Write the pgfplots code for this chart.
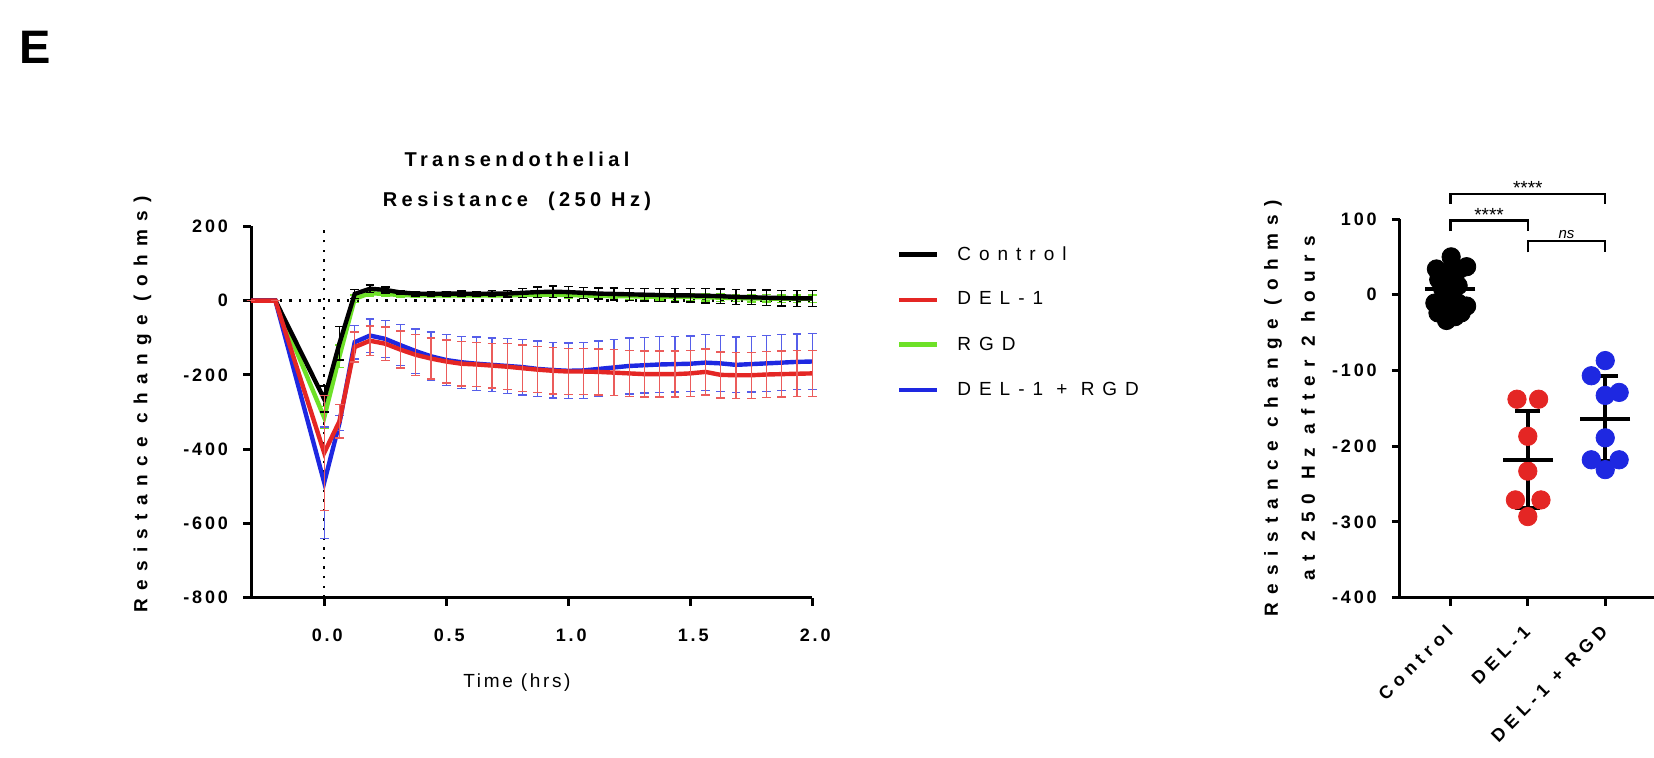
\documentclass[border=0pt]{standalone}
\usepackage{fontspec}
\setmainfont{Liberation Sans}
\newfontfamily\fTick{Liberation Sans}[LetterSpace=16]
\newfontfamily\fCat{Liberation Sans}[LetterSpace=30]
\newfontfamily\fYlab{Liberation Sans}[LetterSpace=44]
\newfontfamily\fTitle{Liberation Sans}[LetterSpace=22]
\newfontfamily\fXlab{Liberation Sans}[LetterSpace=14]
\newfontfamily\fLeg{Liberation Sans}[LetterSpace=42]
\usepackage{pgfplots}
\usepackage{pgfplotstable}
\pgfplotsset{compat=1.18}

\definecolor{cred}{RGB}{228,38,36}
\definecolor{cgreen}{RGB}{110,225,40}
\definecolor{cblue}{RGB}{30,40,225}

% time course, mean and SD
\pgfplotstableread{
t m e
-0.3 0 0
-0.2 0 0
0 -265 35
0.0625 -115 45
0.125 18 12
0.1875 32 10
0.25 29 8
0.3125 22 6
0.375 19 6
0.4375 18 6
0.5 19 6
0.5625 19 7
0.625 18 7
0.6875 19 8
0.75 19 9
0.8125 21 12
0.875 23 14
0.9375 24 15
1.0 23 15
1.0625 21 15
1.125 19 15
1.1875 18 16
1.25 17 16
1.3125 16 17
1.375 15 17
1.4375 14 18
1.5 14 18
1.5625 13 19
1.625 12 19
1.6875 10 20
1.75 9 20
1.8125 8 21
1.875 7 21
1.9375 6 22
2.0 6 22
}\ctrl

\pgfplotstableread{
t m e
-0.3 0 0
-0.2 0 0
0 -315 30
0.0625 -150 30
0.125 5 10
0.1875 20 8
0.25 18 6
0.3125 15 5
0.375 14 5
0.4375 14 5
0.5 14 5
0.5625 14 5
0.625 14 6
0.6875 14 6
0.75 14 6
0.8125 15 7
0.875 16 8
0.9375 16 8
1.0 15 8
1.0625 14 8
1.125 13 8
1.1875 12 8
1.25 12 9
1.3125 11 9
1.375 11 9
1.4375 10 9
1.5 10 9
1.5625 9 10
1.625 8 10
1.6875 7 10
1.75 6 10
1.8125 6 10
1.875 5 10
1.9375 5 10
2.0 5 10
}\rgd

\pgfplotstableread{
t m e
-0.3 0 0
-0.2 0 0
0 -410 155
0.0625 -325 45
0.125 -125 40
0.1875 -108 40
0.25 -116 45
0.3125 -132 50
0.375 -146 55
0.4375 -156 55
0.5 -164 58
0.5625 -170 60
0.625 -172 60
0.6875 -175 60
0.75 -178 62
0.8125 -182 62
0.875 -186 62
0.9375 -189 62
1.0 -191 62
1.0625 -191 62
1.125 -192 62
1.1875 -194 62
1.25 -196 62
1.3125 -198 62
1.375 -198 62
1.4375 -198 62
1.5 -196 62
1.5625 -192 62
1.625 -200 62
1.6875 -201 62
1.75 -201 62
1.8125 -199 62
1.875 -198 62
1.9375 -197 62
2.0 -196 62
}\delone

\pgfplotstableread{
t m e
-0.3 0 0
-0.2 0 0
0 -490 150
0.0625 -330 20
0.125 -112 45
0.1875 -94 45
0.25 -103 50
0.3125 -120 55
0.375 -136 60
0.4375 -150 65
0.5 -160 68
0.5625 -166 70
0.625 -170 72
0.6875 -173 72
0.75 -176 74
0.8125 -179 75
0.875 -184 75
0.9375 -187 75
1.0 -189 75
1.0625 -188 75
1.125 -184 75
1.1875 -180 75
1.25 -176 75
1.3125 -174 75
1.375 -172 75
1.4375 -171 75
1.5 -170 75
1.5625 -167 75
1.625 -169 75
1.6875 -173 75
1.75 -171 75
1.8125 -169 75
1.875 -167 75
1.9375 -165 75
2.0 -164 75
}\delrgd

% values after 2 hours
\pgfplotstableread{
x y
0.01 50
-0.18 34
0.21 37
-0.07 29
0.11 33
0 24
-0.15 20
0.1 12
-0.1 8
0 -4
-0.2 -11
0.21 -15
-0.09 -13
0.1 -11
-0.16 -24
0.14 -24
0.06 -29
-0.05 -34
}\ptctrl

\pgfplotstableread{
x y
0.86 -138
1.14 -138
1 -187
1 -233
0.84 -271
1.17 -271
1 -293
}\ptdel

\pgfplotstableread{
x y
2 -87
1.82 -107
2.18 -129
2 -133
2 -189
1.82 -218
2.18 -218
2 -231
}\ptdelrgd

\pgfplotstableread{
x m s
0 7 26
1 -218 64
2 -164 56
}\summ

\newcommand\tickfont{\fTick\bfseries\fontsize{9}{10}\selectfont}

\begin{document}
\begin{tikzpicture}
\useasboundingbox (0pt,0pt) rectangle (827pt,379pt);
\node[anchor=north west, inner sep=0pt, font=\bfseries\fontsize{23.5}{24}\selectfont] at (9.5pt,363.4pt) {E};

\begin{axis}[
  at={(125.5pt,80.2pt)}, anchor=south west,
  scale only axis, width=280.6pt, height=185.6pt,
  xmin=-0.3, xmax=2.0, ymin=-800, ymax=200,
  axis x line*=bottom, axis y line*=left,
  axis line style={line width=1.5pt},
  tick align=outside, major tick length=4pt,
  tick style={line width=1.5pt, black},
  xtick={0,0.5,1,1.5,2}, xticklabels={0.0,0.5,1.0,1.5,2.0},
  ytick={-800,-600,-400,-200,0,200},
  yticklabels={-800,-600,-400,-200,0,200},
  tick label style={font=\tickfont},
  x tick label style={yshift=-8pt, xshift=1.5pt},
  y tick label style={xshift=-4pt},
  title={Transendothelial\\Resistance\ \ (250 Hz)},
  title style={align=center, font=\fTitle\bfseries\fontsize{10}{20}\selectfont,
    at={(axis description cs:0.474,1)}, anchor=south, inner sep=0pt, yshift=1.8pt},
  xlabel={Time (hrs)},
  xlabel style={font=\fXlab\fontsize{9.5}{11}\selectfont,
    at={(axis description cs:0.474,0)}, anchor=center, yshift=-42.7pt},
  ylabel={Resistance change (ohms)},
  ylabel style={font=\fYlab\bfseries\fontsize{9.5}{11}\selectfont,
    at={(axis description cs:-0.1935,0.52)}, anchor=center},
  legend image code/.code={\draw[#1] (0pt,0pt) -- (19pt,0pt);},
  legend cell align=left,
  legend style={at={(1.139,0.969)}, anchor=north west, draw=none, fill=none,
    font=\fLeg\fontsize{9.5}{11}\selectfont, row sep=10.4pt,
    /tikz/every odd column/.append style={column sep=7pt}},
  clip=false,
]
\draw[black, line width=1.2pt, dash pattern=on 1.2pt off 3.6pt] (axis cs:-0.3,0) -- (axis cs:2,0);
\draw[black, line width=1.2pt, dash pattern=on 1.2pt off 3.6pt] (axis cs:0,-800) -- (axis cs:0,200);

\addlegendimage{black, line width=2.4pt}\addlegendentry{Control}
\addlegendimage{cred, line width=2.4pt}\addlegendentry{DEL-1}
\addlegendimage{cgreen, line width=2.4pt}\addlegendentry{RGD}
\addlegendimage{cblue, line width=2.4pt}\addlegendentry{DEL-1 + RGD}

\addplot[cgreen, line width=2.2pt, forget plot,
  error bars/.cd, y dir=both, y explicit, error mark=|,
  error bar style={line width=0.7pt, cgreen},
  error mark options={mark size=2.2pt, line width=0.7pt, cgreen}]
  table[x=t, y=m, y error=e] {\rgd};
\addplot[black, line width=2.2pt, forget plot,
  error bars/.cd, y dir=both, y explicit, error mark=|,
  error bar style={line width=0.7pt, black},
  error mark options={mark size=2.2pt, line width=0.7pt, black}]
  table[x=t, y=m, y error=e] {\ctrl};
\addplot[cblue, line width=2.2pt, forget plot,
  error bars/.cd, y dir=both, y explicit, error mark=|,
  error bar style={line width=0.7pt, cblue!75},
  error mark options={mark size=2.2pt, line width=0.7pt, cblue!75}]
  table[x=t, y=m, y error=e] {\delrgd};
\addplot[cred, line width=2.2pt, forget plot,
  error bars/.cd, y dir=both, y explicit, error mark=|,
  error bar style={line width=0.7pt, cred!75},
  error mark options={mark size=2.2pt, line width=0.7pt, cred!75}]
  table[x=t, y=m, y error=e] {\delone};
\end{axis}

\begin{axis}[
  at={(699.9pt,80.2pt)}, anchor=south west,
  scale only axis, width=127.1pt, height=189.3pt,
  xmin=-0.653, xmax=2.63, ymin=-400, ymax=100,
  axis x line*=bottom, axis y line*=left,
  axis line style={line width=1.5pt},
  tick align=outside, major tick length=4pt,
  tick style={line width=1.5pt, black},
  xtick={0,1,2}, xticklabels={Control,DEL-1,DEL-1 + RGD},
  ytick={-400,-300,-200,-100,0,100},
  yticklabels={-400,-300,-200,-100,0,100},
  tick label style={font=\tickfont},
  y tick label style={xshift=-4pt},
  x tick label style={font=\fCat\bfseries\fontsize{9}{10}\selectfont,
    yshift=-9pt, xshift=2pt, rotate=45, anchor=east},
  ylabel={Resistance change (ohms)\\at 250 Hz after 2 hours},
  ylabel style={align=center, font=\fYlab\bfseries\fontsize{9.5}{18.5}\selectfont,
    at={(axis description cs:-0.4335,0.5)}, anchor=center},
  clip=false,
]
\addplot[only marks, mark=*, mark size=4.6pt, black] table[x=x, y=y] {\ptctrl};
\addplot[only marks, mark=*, mark size=4.6pt, cred, mark options={fill=cred}] table[x=x, y=y] {\ptdel};
\addplot[only marks, mark=*, mark size=4.6pt, cblue, mark options={fill=cblue}] table[x=x, y=y] {\ptdelrgd};
\addplot[only marks, mark=-, mark size=12.5pt, black, mark options={line width=2pt},
  error bars/.cd, y dir=both, y explicit, error mark=|,
  error bar style={line width=2pt, black},
  error mark options={mark size=6.25pt, line width=2pt, black}]
  table[x=x, y=m, y error=s] {\summ};

\draw[line width=1.2pt] (axis cs:0,120) -- (axis cs:0,133) -- (axis cs:2,133) -- (axis cs:2,120);
\node[font=\fontsize{9.5}{10}\selectfont, inner sep=0pt] at (axis cs:1,141) {****};
\draw[line width=1.2pt] (axis cs:0,84) -- (axis cs:0,98) -- (axis cs:1,98) -- (axis cs:1,84);
\node[font=\fontsize{9.5}{10}\selectfont, inner sep=0pt] at (axis cs:0.5,105) {****};
\draw[line width=1.2pt] (axis cs:1,56) -- (axis cs:1,71) -- (axis cs:2,71) -- (axis cs:2,56);
\node[font=\itshape\fontsize{7.5}{8}\selectfont, inner sep=0pt] at (axis cs:1.5,80) {ns};
\end{axis}
\end{tikzpicture}
\end{document}
